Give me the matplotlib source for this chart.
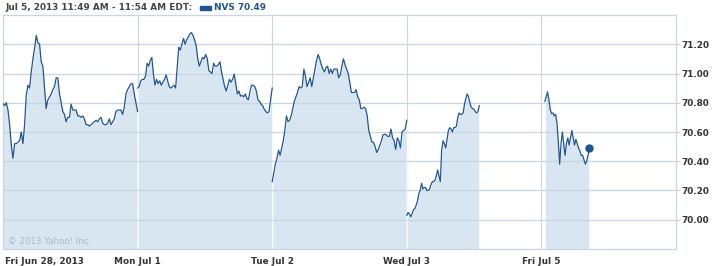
import numpy as np
import matplotlib
matplotlib.use("Agg")
import matplotlib.pyplot as plt

# NVS intraday, 5-day view (Jun 28 - Jul 5, 2013)
day_labels = ["Fri Jun 28, 2013", "Mon Jul 1", "Tue Jul 2", "Wed Jul 3", "Fri Jul 5"]
first_bar_min = [0, 0, 0, 0, 10]       # minutes after 9:30 of first bar
last_bar_min = [390, 390, 390, 210, 139]

jun28 = [70.795, 70.78, 70.80, 70.75, 70.65, 70.51, 70.42, 70.52, 70.52, 70.53,
         70.54, 70.60, 70.52, 70.65, 70.85, 70.92, 70.90, 71.01, 71.10, 71.17,
         71.26, 71.21, 71.20, 71.08, 71.05, 70.90, 70.76, 70.82, 70.84, 70.86,
         70.89, 70.91, 70.97, 70.97, 70.86, 70.80, 70.74, 70.72, 70.67, 70.70,
         70.70, 70.79, 70.75, 70.75, 70.75, 70.71, 70.71, 70.70, 70.71, 70.69,
         70.65, 70.65, 70.64, 70.65, 70.66, 70.67, 70.68, 70.67, 70.69, 70.70,
         70.66, 70.65, 70.65, 70.66, 70.69, 70.65, 70.67, 70.69, 70.74, 70.75,
         70.75, 70.75, 70.72, 70.77, 70.86, 70.89, 70.91, 70.93, 70.93, 70.86,
         70.80, 70.74]
jul1 = [70.90, 70.91, 70.95, 70.96, 70.96, 70.98, 71.07, 71.05, 71.09, 71.11,
        70.995, 70.92, 70.96, 70.93, 70.95, 70.92, 70.94, 70.96, 70.99, 70.95,
        70.91, 70.90, 70.91, 70.92, 70.90, 71.04, 71.18, 71.16, 71.20, 71.24,
        71.20, 71.23, 71.25, 71.27, 71.28, 71.26, 71.23, 71.19, 71.10, 71.05,
        71.08, 71.11, 71.10, 71.13, 71.10, 71.02, 71.01, 71.00, 71.07, 71.05,
        71.05, 71.06, 71.08, 71.01, 70.96, 70.91, 70.88, 70.92, 70.96, 70.94,
        70.96, 70.995, 70.93, 70.86, 70.88, 70.845, 70.85, 70.84, 70.86, 70.83,
        70.82, 70.88, 70.92, 70.92, 70.91, 70.88, 70.82, 70.81, 70.79, 70.78,
        70.755, 70.74, 70.73, 70.74, 70.82, 70.90]
jul2 = [70.26, 70.32, 70.38, 70.42, 70.475, 70.44, 70.49, 70.54, 70.61, 70.71,
        70.67, 70.68, 70.71, 70.76, 70.81, 70.84, 70.87, 70.91, 70.90, 70.91,
        71.03, 70.98, 70.91, 70.94, 70.97, 70.91, 70.97, 71.03, 71.09, 71.13,
        71.10, 71.06, 71.03, 71.01, 71.04, 71.05, 71.00, 71.03, 71.00, 71.03,
        71.03, 71.03, 70.97, 70.99, 71.05, 71.10, 71.06, 71.03, 71.00, 70.94,
        70.87, 70.87, 70.87, 70.89, 70.84, 70.82, 70.76, 70.76, 70.77, 70.76,
        70.71, 70.61, 70.57, 70.53, 70.53, 70.50, 70.46, 70.48, 70.51, 70.54,
        70.58, 70.585, 70.58, 70.57, 70.57, 70.62, 70.56, 70.54, 70.48, 70.56,
        70.54, 70.49, 70.60, 70.61, 70.62, 70.68]
jul3 = [70.03, 70.05, 70.04, 70.02, 70.04, 70.07, 70.075, 70.10, 70.13, 70.18,
        70.20, 70.25, 70.21, 70.22, 70.22, 70.20, 70.20, 70.21, 70.24, 70.26,
        70.26, 70.27, 70.30, 70.34, 70.30, 70.26, 70.48, 70.54, 70.52, 70.49,
        70.55, 70.61, 70.63, 70.62, 70.60, 70.63, 70.63, 70.64, 70.70, 70.73,
        70.72, 70.72, 70.73, 70.79, 70.83, 70.86, 70.84, 70.80, 70.77, 70.76,
        70.755, 70.74, 70.73, 70.74, 70.78]
jul5 = [70.81, 70.84, 70.875, 70.82, 70.755, 70.725, 70.73, 70.71, 70.72, 70.66,
        70.53, 70.38, 70.52, 70.60, 70.52, 70.44, 70.52, 70.56, 70.51, 70.56,
        70.61, 70.56, 70.51, 70.55, 70.52, 70.49, 70.47, 70.44, 70.44, 70.41,
        70.38, 70.40, 70.44, 70.49]
sessions = [jun28, jul1, jul2, jul3, jul5]

y_ticks = [70.00, 70.20, 70.40, 70.60, 70.80, 71.00, 71.20]
SLOT = 390  # one trading day, minutes

line_c = "#1f5591"
fill_c = "#d7e6f1"
grid_c = "#c9d6df"
text_c = "#333333"

fig = plt.figure(figsize=(7.12, 2.66), dpi=100)
ax = fig.add_axes([3 / 712, 17 / 266, 673 / 712, 234 / 266])

ymin, ymax = 69.80, 71.40
for i, prices in enumerate(sessions):
    x = i * SLOT + np.linspace(first_bar_min[i], last_bar_min[i], len(prices))
    ax.fill_between(x, prices, ymin, color=fill_c, edgecolor="white",
                    linewidth=0.8, zorder=1)
    ax.plot(x, prices, color=line_c, lw=0.9, zorder=3)

# current price dot
ax.plot(4 * SLOT + last_bar_min[-1], jul5[-1], "o", color=line_c, ms=5,
        zorder=4)

ax.set_xlim(0, len(sessions) * SLOT)
ax.set_ylim(ymin, ymax)

for t in y_ticks:
    ax.axhline(t, color=grid_c, lw=0.9, zorder=2)
for i in range(1, len(sessions)):
    ax.axvline(i * SLOT, color=grid_c, lw=0.8, zorder=0)

ax.yaxis.tick_right()
ax.set_yticks(y_ticks)
ax.set_yticklabels([f"{t:.2f}" for t in y_ticks])
ax.tick_params(axis="y", length=3, width=0.9, color=grid_c, pad=1,
               labelsize=6.4, labelcolor=text_c)
ax.set_xticks([])
for lab in ax.get_yticklabels():
    lab.set_fontweight("bold")

for s in ax.spines.values():
    s.set_color(grid_c)
    s.set_linewidth(0.9)

# day labels under the axis
for i, lab in enumerate(day_labels):
    if i == 0:
        ax.text(0.003, -0.035, lab, transform=ax.transAxes, ha="left", va="top",
                fontsize=6.4, fontweight="bold", color=text_c)
    else:
        ax.text(i * SLOT, -0.035, lab, transform=ax.get_xaxis_transform(),
                ha="center", va="top", fontsize=6.4, fontweight="bold",
                color=text_c)

ax.text(0.008, 0.012, "\u00a9 2013 Yahoo! Inc.", transform=ax.transAxes,
        fontsize=6.2, color="#aab9c5", va="bottom", ha="left", zorder=5)

# header
fig.text(5 / 712, 1 - 8 / 266, "Jul 5, 2013 11:49 AM - 11:54 AM EDT:",
         fontsize=6.4, fontweight="bold", color="#444444", va="center")
fig.patches.append(plt.Rectangle((200 / 712, 1 - 9.5 / 266), 11 / 712, 4 / 266,
                                 transform=fig.transFigure, color=line_c))
fig.text(214 / 712, 1 - 8 / 266, "NVS 70.49", fontsize=6.4, fontweight="bold",
         color=line_c, va="center")

fig.savefig("out.png", dpi=100)
